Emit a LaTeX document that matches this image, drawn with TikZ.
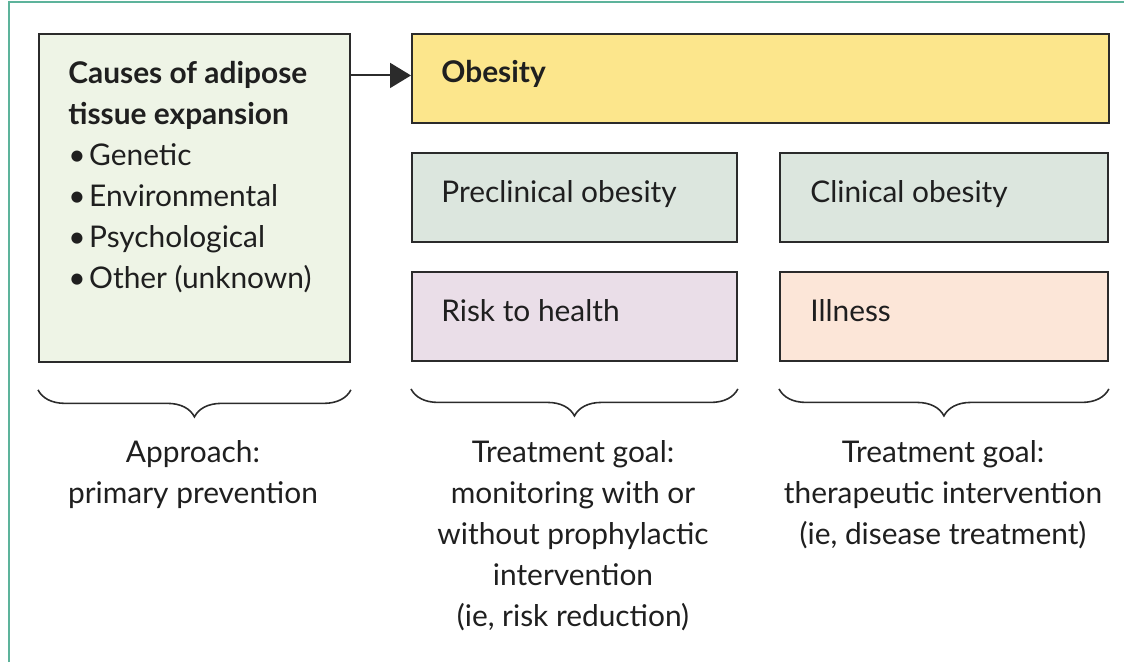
\documentclass[tikz,border=0pt]{standalone}
\usepackage{fontspec}
\setmainfont{Lato}
\usetikzlibrary{arrows.meta, decorations.pathreplacing, calc}

\definecolor{framegreen}{HTML}{5DB39B}
\definecolor{boxline}{HTML}{2B2B2B}
\definecolor{causefill}{HTML}{EEF4E6}
\definecolor{obesefill}{HTML}{FCE68C}
\definecolor{stagefill}{HTML}{DCE6DE}
\definecolor{riskfill}{HTML}{EADEE8}
\definecolor{illfill}{HTML}{FCE6D8}

\newcommand{\blt}{\textbullet\hspace{2pt}}

\tikzset{
  box/.style={draw=boxline, line width=1.1pt, anchor=north west, inner sep=0pt},
  txt/.style={font=\fontsize{17}{23.3}\selectfont, text=black!88, inner sep=0pt},
  brc/.style={decorate, decoration={brace, mirror, amplitude=0.54cm}, line width=0.9pt, draw=boxline}
}

\begin{document}
\begin{tikzpicture}[x=0.02cm, y=-0.02cm]
        \useasboundingbox (0,0) rectangle (1124,662);
        \draw[framegreen, line width=1.4pt] (9,662) -- (9,2) -- (1124,2);

        \node[box, fill=causefill, minimum width=6.22cm, minimum height=6.56cm] (causes) at (38,33) {};
        \node[box, fill=obesefill, minimum width=13.94cm, minimum height=1.78cm] (obesity) at (411,33) {};
        \node[box, fill=stagefill, minimum width=6.5cm, minimum height=1.78cm] (preclin) at (411,152) {};
        \node[box, fill=stagefill, minimum width=6.56cm, minimum height=1.78cm] (clin) at (779,152) {};
        \node[box, fill=riskfill, minimum width=6.5cm, minimum height=1.78cm] (risk) at (411,271) {};
        \node[box, fill=illfill, minimum width=6.56cm, minimum height=1.78cm] (ill) at (779,271) {};

        % multi-line texts: base anchor sits on the last line
        \node[txt, anchor=base west, align=left] (causestxt) at (68,288)
            {\textbf{Causes of adipose}\\\textbf{tissue expansion}\\\blt Genetic\\\blt Environmental\\\blt Psychological\\\blt Other (unknown)};
        \node[txt, anchor=base west] (obesetxt) at (441,83) {\textbf{Obesity}};
        \node[txt, anchor=base west] (precltxt) at (441,202) {Preclinical obesity};
        \node[txt, anchor=base west] (clintxt) at (810,202) {Clinical obesity};
        \node[txt, anchor=base west] (risktxt) at (441,321) {Risk to health};
        \node[txt, anchor=base west] (illtxt) at (810,321) {Illness};

        \draw[boxline, line width=1.1pt, -{Triangle[length=0.42cm, width=0.5cm]}] ([yshift=0.06cm]causes.east |- obesity.west) -- ([yshift=0.06cm]obesity.west);

        \draw[brc] ($(causes.south west)+(0,27)$) -- ($(causes.south east)+(0,27)$);
        \draw[brc] ($(risk.south west)+(0,27)$) -- ($(risk.south east)+(0,27)$);
        \draw[brc] ($(ill.south west)+(0,27)$) -- ($(ill.south east)+(0,27)$);

        \node[txt, anchor=base, align=center] (approach) at (193,503) {Approach:\\primary prevention};
        \node[txt, anchor=base, align=center] (goalrisk) at (573,626) {Treatment goal:\\monitoring with or\\without prophylactic\\intervention\\(ie, risk reduction)};
        \node[txt, anchor=base, align=center] (goalill) at (943,544) {Treatment goal:\\therapeutic intervention\\(ie, disease treatment)};
\end{tikzpicture}
\end{document}
